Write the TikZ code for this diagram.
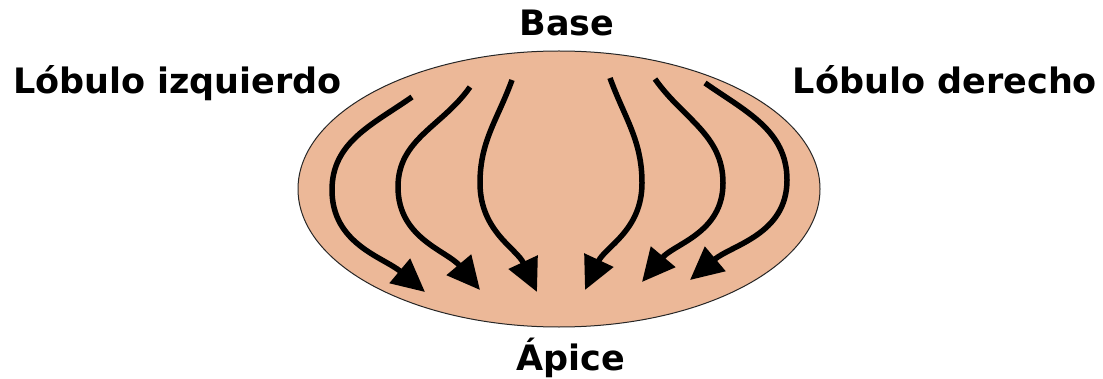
\documentclass[tikz,border=0pt]{standalone}
\usepackage{fontspec}
\setmainfont{DejaVu Sans}
\usetikzlibrary{arrows.meta,shapes.geometric}
\definecolor{lobe}{RGB}{236,184,152}
\begin{document}
\begin{tikzpicture}[x=1pt,y=1pt,
  lbl/.style={font=\bfseries\fontsize{35}{40}\selectfont, inner sep=0pt, anchor=base},
  flow/.style={line width=5.5pt, -{Triangle[length=33pt,width=31pt]}}]
\useasboundingbox (0,0) rectangle (1103,378);
\node[draw=black!85, line width=1pt, fill=lobe, ellipse, minimum width=522pt, minimum height=276pt, inner sep=0pt] (lobe) at (559,189) {};
\node[lbl] (base) at (567,342) {Base};
\node[lbl] (apex) at (571,8) {Ápice};
\node[lbl] (left) at (177.5,284) {Lóbulo izquierdo};
\node[lbl] (right) at (945,284) {Lóbulo derecho};
\coordinate (s1) at (412,281); \coordinate (b1) at (332,188); \coordinate (e1) at (425,86);
\coordinate (s2) at (470,291); \coordinate (b2) at (398,191); \coordinate (e2) at (480,88);
\coordinate (s3) at (512,298); \coordinate (b3) at (480,195); \coordinate (e3) at (537,86);
\coordinate (s4) at (610,300); \coordinate (b4) at (642,195); \coordinate (e4) at (585,88);
\coordinate (s5) at (655,299); \coordinate (b5) at (723,195); \coordinate (e5) at (642,96);
\coordinate (s6) at (705,295); \coordinate (b6) at (787,198); \coordinate (e6) at (690,98);
\draw[flow] (s1) to[out=215,in=90] (b1) to[out=270,in=140] (e1);
\draw[flow] (s2) to[out=235,in=90] (b2) to[out=270,in=130] (e2);
\draw[flow] (s3) to[out=250,in=90] (b3) to[out=270,in=115] (e3);
\draw[flow] (s4) to[out=290,in=90] (b4) to[out=270,in=65] (e4);
\draw[flow] (s5) to[out=305,in=90] (b5) to[out=270,in=50] (e5);
\draw[flow] (s6) to[out=325,in=90] (b6) to[out=270,in=40] (e6);
\end{tikzpicture}
\end{document}
